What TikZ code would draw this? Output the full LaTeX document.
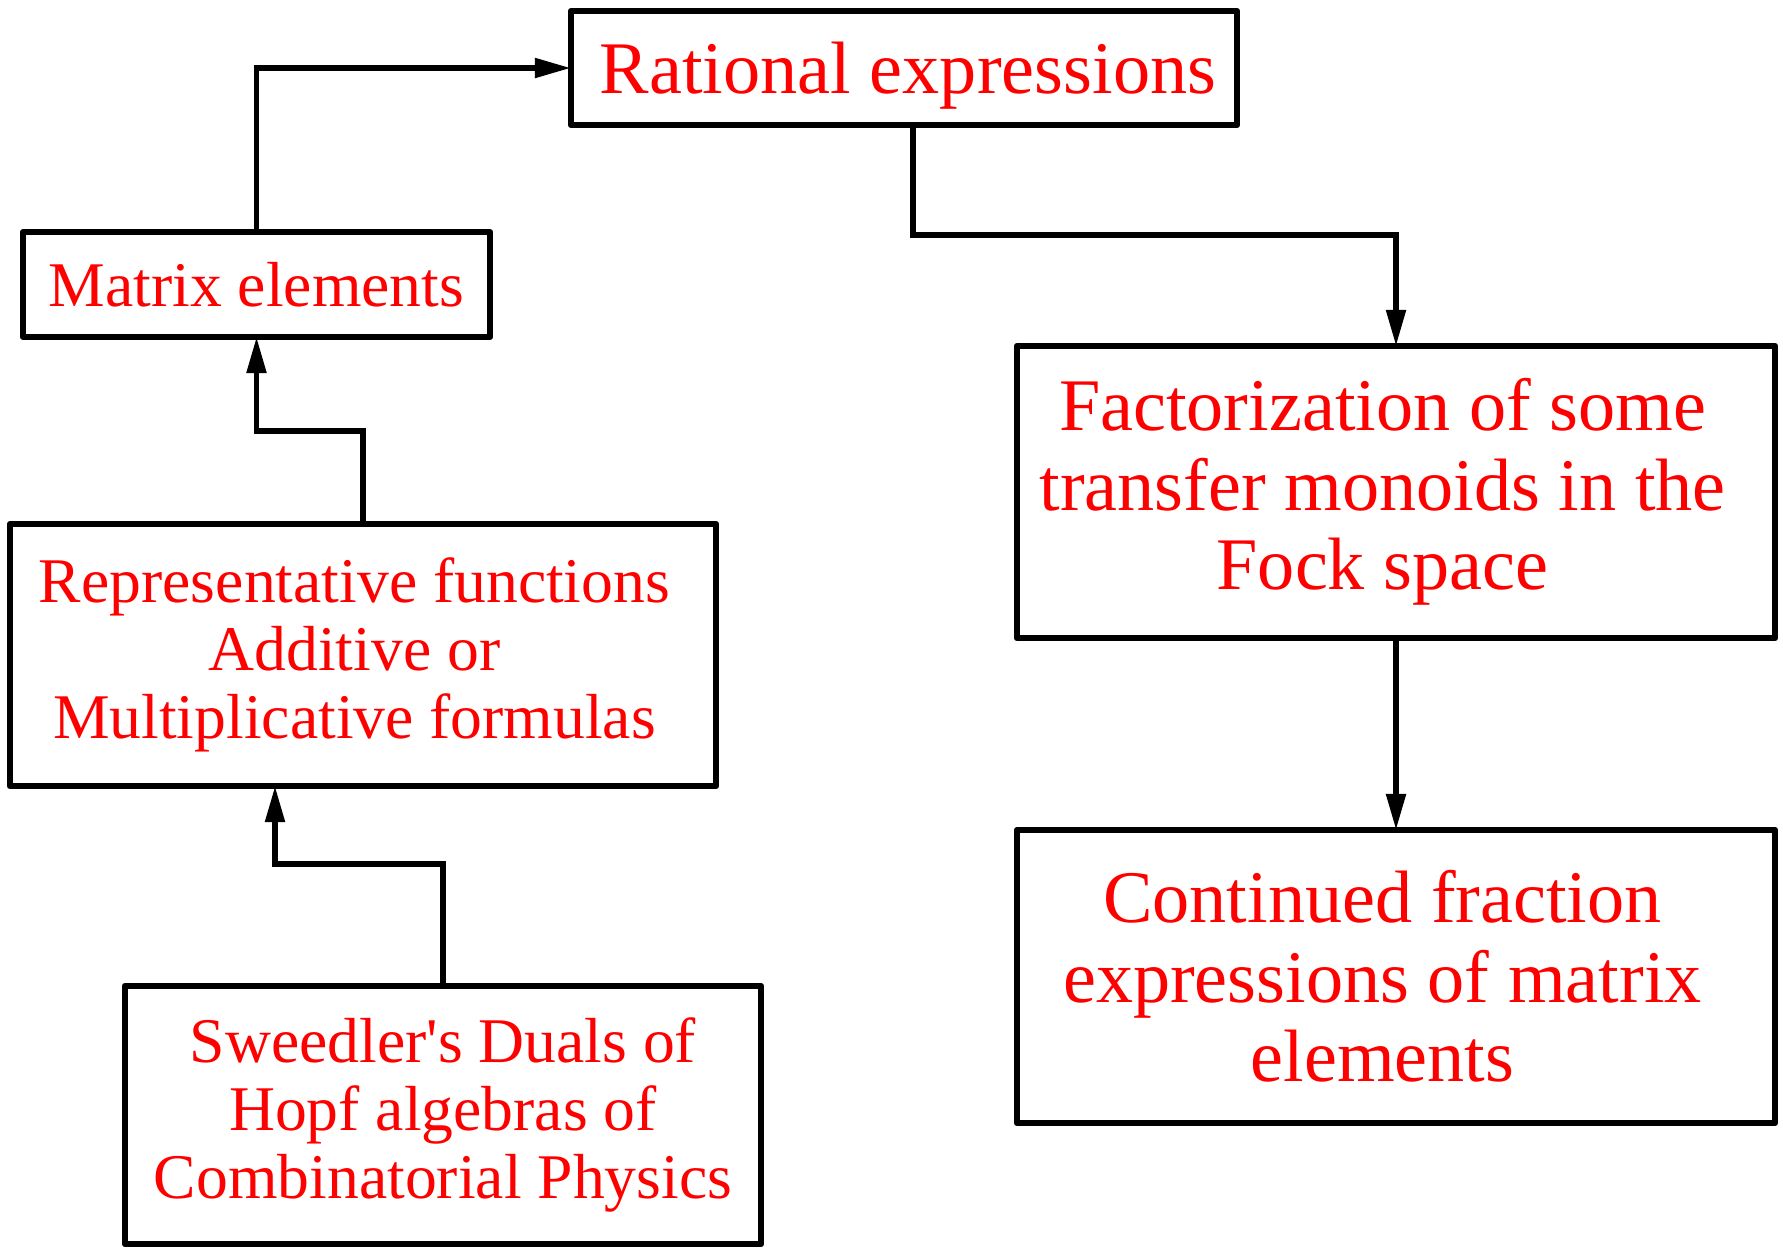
\documentclass[tikz,border=0pt]{standalone}
\usepackage{fontspec}
\setmainfont{Liberation Serif}[Ligatures=TeXOff]
\usetikzlibrary{arrows.meta}
\definecolor{txtred}{RGB}{255,0,0}
\newcommand\padA{\kern0.17cm}
\newcommand\padB{\kern0.27cm}
\tikzset{
  box/.style={draw=black, line width=1.7pt, line join=round, fill=white, align=center, text=txtred, inner sep=0pt, outer sep=0pt},
  smalltxt/.style={font=\fontsize{18.1}{19.4}\selectfont},
  bigtxt/.style={font=\fontsize{21.1}{22.6}\selectfont},
  arr/.style={draw=black, line width=1.5pt, -{Triangle[length=0.36cm, width=0.19cm]}}
}
\begin{document}
\begin{tikzpicture}[x=0.01cm, y=-0.01cm]
\useasboundingbox (0,0) rectangle (1783,1247);
\node[box, bigtxt, minimum width=6.66cm, minimum height=1.14cm] (rat) at (904,68) {\raisebox{-0.08cm}[\height][\depth]{Rational expressions}\kern-0.08cm};
\node[box, smalltxt, minimum width=4.67cm, minimum height=1.05cm] (mat) at (256.5,284.5) {Matrix elements};
\node[box, smalltxt, minimum width=7.06cm, minimum height=2.62cm] (rep) at (363,655) {Representative functions\padA\\Additive or\padA\\Multiplicative formulas\padA};
\node[box, smalltxt, minimum width=6.36cm, minimum height=2.58cm] (swe) at (443,1115) {Sweedler's Duals of\\Hopf algebras of\\Combinatorial Physics};
\node[box, bigtxt, minimum width=7.58cm, minimum height=2.92cm] (fac) at (1396,492) {Factorization of some\padB\\transfer monoids in the\padB\\Fock space\padB};
\node[box, bigtxt, minimum width=7.58cm, minimum height=2.93cm] (con) at (1396,976.5) {Continued fraction\padB\\expressions of matrix\padB\\elements\padB};
\coordinate (j1) at (363,431);
\coordinate (j2) at (256.5,431);
\coordinate (k1) at (443,864);
\coordinate (k2) at (275,864);
\coordinate (r1) at (913,235);
\draw[arr] (mat.north) |- (rat.west);
\draw[arr] (rep.north) -- (j1) -- (j2) -- (mat.south);
\draw[arr] (swe.north) -- (k1) -- (k2) -- (k2 |- rep.south);
\draw[arr] (rat.south -| r1) -- (r1) -| (fac.north);
\draw[arr] (fac.south) -- (con.north);
\end{tikzpicture}
\end{document}
